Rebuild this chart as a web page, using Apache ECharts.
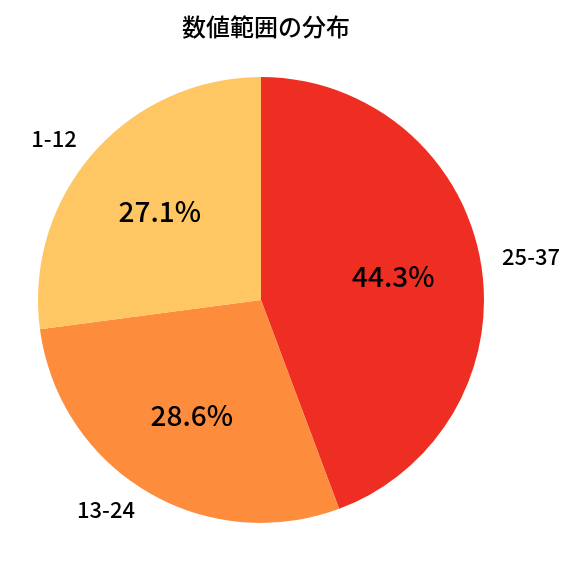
<!DOCTYPE html>
<html>
<head>
<meta charset="utf-8">
<script src="https://cdn.jsdelivr.net/npm/echarts@6/dist/echarts.min.js"></script>
<style>html,body{margin:0;padding:0;background:#fff;}#c{width:576px;height:576px;}</style>
</head>
<body>
<div id="c"></div>
<script>
const title = '数値範囲の分布';
const categories = ['25-37', '13-24', '1-12'];
const values = [44.3, 28.6, 27.1];
const colors = ['#EE2E22', '#FD8C3C', '#FEC763'];

const font = '"Noto Sans CJK JP", "Noto Sans", sans-serif';
const data = categories.map((c, i) => ({ name: c, value: values[i], itemStyle: { color: colors[i] } }));
const total = values.reduce((a, b) => a + b, 0);

const chart = echarts.init(document.getElementById('c'), null, { renderer: 'canvas' });
chart.setOption({
  animation: false,
  backgroundColor: '#fff',
  title: {
    text: title, left: 261, top: 10, textAlign: 'center',
    textStyle: { fontFamily: font, fontSize: 24, fontWeight: 500, color: '#000' }
  },
  series: [
    {
      type: 'pie', center: [261, 300], radius: [0, 223], startAngle: 90, clockwise: true,
      silent: true,
      data: data,
      label: { show: true, position: 'outside', formatter: '{b}', fontFamily: font, fontSize: 22, fontWeight: 500, color: '#000', distanceToLabelLine: 0 },
      labelLine: { show: false, length: 22, length2: 0 },
      avoidLabelOverlap: false
    },
    {
      type: 'pie', center: [261, 300], radius: [98, 165], startAngle: 90, clockwise: true,
      silent: true,
      data: data.map(d => ({ name: d.name, value: d.value, itemStyle: { color: 'rgba(0,0,0,0)' } })),
      label: {
        show: true, position: 'inside', fontFamily: font, fontSize: 28, fontWeight: 500, color: '#000',
        formatter: p => (p.value / total * 100).toFixed(1) + '%'
      },
      labelLine: { show: false }
    }
  ]
});
</script>
</body>
</html>
